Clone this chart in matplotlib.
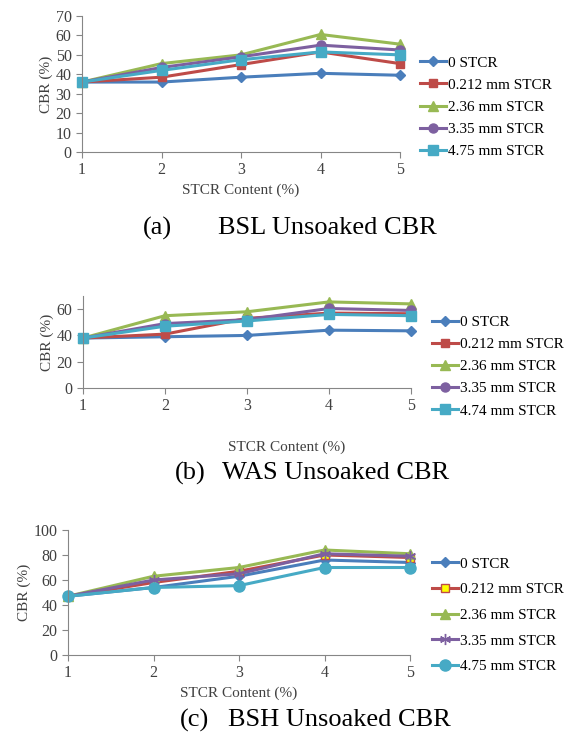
import matplotlib.pyplot as plt

plt.rcParams['font.family'] = ['Liberation Serif', 'DejaVu Serif']

# STCR content (%)
x = [1, 2, 3, 4, 5]

# (a) BSL unsoaked CBR
bsl_labels = ["0 STCR", "0.212 mm STCR", "2.36 mm STCR", "3.35 mm STCR", "4.75 mm STCR"]
bsl_0 = [36, 36, 38.5, 40.5, 39.5]
bsl_0212 = [36, 38.5, 45, 51.5, 45.5]
bsl_236 = [36, 45.5, 50, 60.5, 55.5]
bsl_335 = [36, 43.5, 49, 55, 52.5]
bsl_475 = [36, 42, 47.5, 51.5, 50]

# (b) WAS unsoaked CBR
was_labels = ["0 STCR", "0.212 mm STCR", "2.36 mm STCR", "3.35 mm STCR", "4.74 mm STCR"]
was_0 = [38, 39, 40, 44, 43.5]
was_0212 = [38, 41, 53, 57, 56.5]
was_236 = [38, 55, 58, 65.5, 64]
was_335 = [38, 49, 52, 60.5, 59]
was_474 = [38, 47, 51, 56, 55]

# (c) BSH unsoaked CBR
bsh_labels = ["0 STCR", "0.212 mm STCR", "2.36 mm STCR", "3.35 mm STCR", "4.75 mm STCR"]
bsh_0 = [47, 54, 63, 76, 74]
bsh_0212 = [47, 58, 67, 80, 78]
bsh_236 = [47, 63, 70, 84, 81]
bsh_335 = [47, 60, 65, 81, 79]
bsh_475 = [47, 54, 55.5, 70, 70]

blue = "#4A7EBB"
red = "#BE4B48"
green = "#98B954"
purple = "#7D60A0"
cyan = "#46AAC5"

W, H = 571, 740
fig = plt.figure(figsize=(W / 100, H / 100), dpi=100)


def px_axes(left, right, top, bottom):
    return fig.add_axes([left / W, 1 - bottom / H, (right - left) / W, (bottom - top) / H])


def style(ax, ymax, ystep):
    ax.set_xlim(1, 5)
    ax.set_ylim(0, ymax)
    ax.set_xticks(x)
    ax.set_yticks(range(0, ymax + 1, ystep))
    for s in ["top", "right"]:
        ax.spines[s].set_visible(False)
    for s in ["left", "bottom"]:
        ax.spines[s].set_color("#868686")
        ax.spines[s].set_linewidth(0.8)
    ax.tick_params(colors="#868686", labelcolor="#404040", labelsize=11.5, length=4, width=0.8)
    ax.set_ylabel("CBR (%)", fontsize=11, color="#404040", labelpad=2)
    ax.set_xlabel("STCR Content (%)", fontsize=11, color="#404040", labelpad=4)
    for line in ax.get_lines():
        line.set_clip_on(False)


def legend(ax, labels, xpos, ypos, spacing):
    fig.legend(ax.get_lines(), labels, loc="upper left",
               bbox_to_anchor=(xpos / W, 1 - ypos / H), frameon=False,
               fontsize=11, handlelength=1.7, handletextpad=0.1,
               labelspacing=spacing, borderaxespad=0, borderpad=0)


def title(tag, xtag, text, xtext, ypos):
    fig.text(xtag / W, 1 - ypos / H, tag, fontsize=19, va="center")
    fig.text(xtext / W, 1 - ypos / H, text, fontsize=19, va="center")


lw = 2.2

# panel (a)
ax1 = px_axes(82, 400, 16, 152)
ax1.plot(x, bsl_0, color=blue, lw=lw, marker="D", ms=5)
ax1.plot(x, bsl_0212, color=red, lw=lw, marker="s", ms=6)
ax1.plot(x, bsl_236, color=green, lw=lw, marker="^", ms=6.5)
ax1.plot(x, bsl_335, color=purple, lw=lw, marker="o", ms=6.5)
ax1.plot(x, bsl_475, color=cyan, lw=lw, marker="s", ms=7.5)
style(ax1, 70, 10)
legend(ax1, bsl_labels, 420, 56, 0.55)
title("(a)", 143, "BSL Unsoaked CBR", 218, 228)

# panel (b)
ax2 = px_axes(83, 411, 296, 388)
ax2.plot(x, was_0, color=blue, lw=lw, marker="D", ms=5)
ax2.plot(x, was_0212, color=red, lw=lw, marker="s", ms=6)
ax2.plot(x, was_236, color=green, lw=lw, marker="^", ms=6.5)
ax2.plot(x, was_335, color=purple, lw=lw, marker="o", ms=6.5)
ax2.plot(x, was_474, color=cyan, lw=lw, marker="s", ms=7.5)
style(ax2, 70, 20)
ax2.set_yticks([0, 20, 40, 60])
ax2.xaxis.set_label_coords(0.62, -0.576)
legend(ax2, was_labels, 432, 315.5, 0.55)
title("(b)", 175, "WAS Unsoaked CBR", 222, 473)

# panel (c)
ax3 = px_axes(68, 410, 530, 655)
ax3.plot(x, bsh_0, color=blue, lw=lw, marker="D", ms=5)
ax3.plot(x, bsh_0212, color=red, lw=lw, marker="s", ms=6, mfc="#FFFF00", mec=red)
ax3.plot(x, bsh_236, color=green, lw=lw, marker="^", ms=6.5)
ax3.plot(x, bsh_335, color=purple, lw=lw, marker=(6, 2, 0), ms=8, mew=1)
ax3.plot(x, bsh_475, color=cyan, lw=lw, marker="o", ms=8)
style(ax3, 100, 20)
legend(ax3, bsh_labels, 432, 557, 0.78)
title("(c)", 180, "BSH Unsoaked CBR", 228, 720)

fig.savefig("out.png", dpi=100)
